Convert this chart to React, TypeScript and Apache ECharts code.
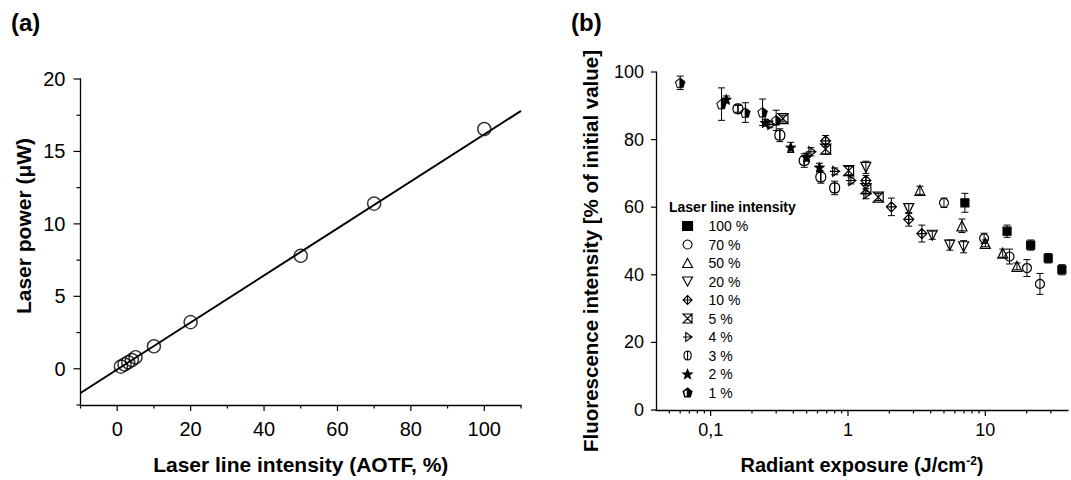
import React, { useEffect, useRef } from "react";
import * as echarts from "echarts";

const FONT = "'Liberation Sans', Arial, Helvetica, sans-serif";

// ---------- Panel (a) ----------
const aotfX = [1, 2, 3, 4, 5, 10, 20, 50, 70, 100];
const powerY = [0.15, 0.3, 0.45, 0.6, 0.8, 1.55, 3.22, 7.8, 11.4, 16.55];
const fitX = [-10, 110];
const fitY = [-1.67, 17.8];
const aXMajor = [0, 20, 40, 60, 80, 100];
const aXMinor = [-10, 10, 30, 50, 70, 90, 110];
const aYMajor = [0, 5, 10, 15, 20];
const aYMinor = [-2.5, 2.5, 7.5, 12.5, 17.5];

// ---------- Panel (b) ----------
const bXMajor = [0.1, 1, 10];
const bXMinor = [0.05, 0.06, 0.07, 0.08, 0.09, 0.2, 0.3, 0.4, 0.5, 0.6, 0.7, 0.8, 0.9, 2, 3, 4, 5, 6, 7, 8, 9, 20, 30];
const bYMajor = [0, 20, 40, 60, 80, 100];

const names = ["100 %", "70 %", "50 %", "20 %", "10 %", "5 %", "4 %", "3 %", "2 %", "1 %"];

const x100 = [7.1, 14.4, 21.4, 28.7, 36.1];
const y100 = [61.3, 52.9, 48.8, 44.9, 41.5];
const e100 = [2.8, 1.8, 1.5, 1.4, 1.5];

const x70 = [5.0, 9.8, 15.0, 20.1, 25.0];
const y70 = [61.3, 50.8, 45.4, 42.0, 37.3];
const e70 = [1.4, 1.5, 2.2, 2.5, 3.1];

const x50 = [3.34, 6.76, 10.0, 13.4, 17.0];
const y50 = [65.0, 54.5, 49.3, 46.4, 42.5];
const e50 = [1.2, 2.0, 1.0, 1.2, 1.0];

const x20 = [1.35, 2.77, 4.11, 5.51, 6.95];
const y20 = [71.8, 59.6, 51.7, 48.8, 48.3];
const e20 = [1.8, 1.5, 1.2, 1.5, 1.8];

const x10 = [0.687, 1.35, 2.07, 2.77, 3.45];
const y10 = [79.6, 67.9, 60.1, 56.4, 52.2];
const e10 = [1.6, 1.5, 2.6, 2.0, 2.5];

const x5 = [0.336, 0.687, 1.01, 1.35, 1.66];
const y5 = [86.2, 77.2, 70.8, 65.5, 63.0];
const e5 = [1.0, 1.5, 1.2, 1.5, 1.0];

const x4 = [0.27, 0.537, 0.8, 1.05, 1.35];
const y4 = [84.5, 76.4, 70.6, 67.9, 64.0];
const e4 = [1.0, 1.2, 1.0, 1.0, 1.5];

const x3 = [0.158, 0.319, 0.48, 0.634, 0.8];
const y3 = [89.1, 81.3, 73.8, 68.9, 65.7];
const e3 = [1.0, 1.9, 2.0, 1.8, 2.0];

const x2 = [0.13, 0.25, 0.383, 0.5, 0.62];
const y2 = [91.9, 85.0, 77.7, 74.8, 71.8];
const e2 = [1.0, 1.0, 1.5, 1.2, 1.2];

const x1 = [0.06, 0.12, 0.179, 0.239, 0.3];
const y1 = [96.8, 90.5, 88.0, 88.1, 85.7];
const e1 = [2.0, 4.8, 2.9, 3.9, 3.0];

const SYM_TRI_DOWN = "path://M0,0L10,0L5,9Z";
const SYM_DIAMOND_CROSS = "path://M5,0L10,5L5,10L0,5Z M5,0L5,10 M0,5L10,5";
const SYM_HOURGLASS = "path://M0,0L10,0L0,10L10,10Z M10,0L10,10";
const SYM_TRI_RIGHT = "path://M3,0L10,5L3,10Z M0,5L10,5";
const SYM_PHI = "path://M5,0C8,0 9,2.5 9,5C9,7.5 8,10 5,10C2,10 1,7.5 1,5C1,2.5 2,0 5,0Z M5,0L5,10";
const SYM_STAR = "path://M5,0L6.23,3.3L9.76,3.45L7,5.65L7.94,9.05L5,7.1L2.06,9.05L3,5.65L0.24,3.45L3.77,3.3Z";
const SYM_PENT_HALF = "path://M5,0L10,3.8L8.1,10L1.9,10L0,3.8Z M4.7,1.0L0.6,4.0L2.2,9.5L4.7,9.5Z";

const OPEN = "rgba(255,255,255,0)";
const groups = [
  { name: names[0], x: x100, y: y100, e: e100, symbol: "rect", size: 8, fill: "#000", bw: 1.2 },
  { name: names[1], x: x70, y: y70, e: e70, symbol: "circle", size: 9, fill: OPEN, bw: 1.2 },
  { name: names[2], x: x50, y: y50, e: e50, symbol: "triangle", size: 10, fill: OPEN, bw: 1.2 },
  { name: names[3], x: x20, y: y20, e: e20, symbol: SYM_TRI_DOWN, size: 10, fill: OPEN, bw: 1.2 },
  { name: names[4], x: x10, y: y10, e: e10, symbol: SYM_DIAMOND_CROSS, size: 10, fill: OPEN, bw: 1.2 },
  { name: names[5], x: x5, y: y5, e: e5, symbol: SYM_HOURGLASS, size: 10, fill: OPEN, bw: 1.2 },
  { name: names[6], x: x4, y: y4, e: e4, symbol: SYM_TRI_RIGHT, size: 10, fill: OPEN, bw: 1.2 },
  { name: names[7], x: x3, y: y3, e: e3, symbol: SYM_PHI, size: 10, fill: OPEN, bw: 1.2 },
  { name: names[8], x: x2, y: y2, e: e2, symbol: SYM_STAR, size: 10, fill: "#000", bw: 1 },
  { name: names[9], x: x1, y: y1, e: e1, symbol: SYM_PENT_HALF, size: 10, fill: "#000", bw: 0.5 },
];

// tick renderer: data = [value, length, orientation(0 = x-axis tick, 1 = y-axis tick)]
function makeTickRender(xBase: number, yBase: number) {
  return (_p: any, api: any) => {
    const v = api.value(0);
    const len = api.value(1);
    const o = api.value(2);
    const st = { stroke: "#000", lineWidth: 1.2 };
    if (o === 0) {
      const pt = api.coord([v, yBase]);
      return { type: "line", shape: { x1: pt[0], y1: pt[1], x2: pt[0], y2: pt[1] + len }, style: st };
    }
    const pt = api.coord([xBase, v]);
    return { type: "line", shape: { x1: pt[0], y1: pt[1], x2: pt[0] - len, y2: pt[1] }, style: st };
  };
}

function buildOption() {
  const axisLine = { show: true, onZero: false, lineStyle: { color: "#000", width: 1.3 } };
  const errData: number[][] = [];
  groups.forEach((g) => g.x.forEach((xv, i) => errData.push([xv, g.y[i] - g.e[i], g.y[i] + g.e[i]])));
  const ticksA: number[][] = [
    ...aXMajor.map((v) => [v, 6, 0]),
    ...aXMinor.map((v) => [v, 3.5, 0]),
    ...aYMajor.map((v) => [v, 7, 1]),
    ...aYMinor.map((v) => [v, 4, 1]),
  ];
  const ticksB: number[][] = [
    ...bXMajor.map((v) => [v, 6, 0]),
    ...bXMinor.map((v) => [v, 3.5, 0]),
    ...bYMajor.map((v) => [v, 5, 1]),
  ];

  const scatterSeries = groups.map((g) => ({
    type: "scatter",
    name: g.name,
    xAxisIndex: 1,
    yAxisIndex: 1,
    symbol: g.symbol,
    symbolSize: g.size,
    z: 3,
    silent: true,
    itemStyle: { color: g.fill, borderColor: "#000", borderWidth: g.bw, opacity: 1 },
    data: g.x.map((xv, i) => [xv, g.y[i]]),
  }));

  return {
    animation: false,
    backgroundColor: "#fff",
    textStyle: { fontFamily: FONT },
    title: [
      { text: "(a)", left: 11, top: 10, padding: 0, textStyle: { fontSize: 24, fontWeight: "bold", color: "#000", fontFamily: FONT } },
      { text: "(b)", left: 571, top: 10, padding: 0, textStyle: { fontSize: 24, fontWeight: "bold", color: "#000", fontFamily: FONT } },
    ],
    graphic: [
      {
        type: "text", x: 23, y: 226, rotation: Math.PI / 2,
        style: { text: "Laser power (\u03bcW)", font: `bold 21px ${FONT}`, fill: "#000", textAlign: "center", textVerticalAlign: "middle" },
      },
      {
        type: "text", x: 590, y: 251, rotation: Math.PI / 2,
        style: { text: "Fluorescence intensity [% of initial value]", font: `bold 20.5px ${FONT}`, fill: "#000", textAlign: "center", textVerticalAlign: "middle" },
      },
      {
        type: "text", x: 669, y: 207,
        style: { text: "Laser line intensity", font: `bold 14px ${FONT}`, fill: "#000", textAlign: "left", textVerticalAlign: "middle" },
      },
    ],
    legend: {
      data: names,
      orient: "vertical",
      left: 682,
      top: 219,
      padding: 0,
      itemWidth: 10,
      itemHeight: 9,
      itemGap: 4.5,
      textStyle: { fontSize: 14, color: "#000", fontFamily: FONT, lineHeight: 14, padding: [0, 0, 0, 11] },
      itemStyle: { borderWidth: 1.1, borderColor: "#000" },
      selectedMode: false,
    },
    grid: [
      { left: 80.5, top: 79, width: 440.5, height: 333.5 },
      { left: 656, top: 72, width: 418, height: 341 },
    ],
    xAxis: [
      {
        gridIndex: 0, type: "value", position: "bottom", min: -10, max: 110,
        axisLine,
        axisTick: { show: false },
        axisLabel: { show: true, customValues: aXMajor, fontSize: 20, color: "#000", margin: 14, fontFamily: FONT },
        splitLine: { show: false },
        name: "Laser line intensity (AOTF, %)",
        nameLocation: "middle",
        nameGap: 49,
        nameTextStyle: { fontSize: 21, fontWeight: "bold", color: "#000", fontFamily: FONT, verticalAlign: "top" },
      },
      {
        gridIndex: 1, type: "log", logBase: 10, position: "bottom", min: 0.04, max: 40,
        axisLine,
        axisTick: { show: false },
        axisLabel: {
          show: true, fontSize: 18, color: "#000", margin: 11, fontFamily: FONT,
          showMinLabel: true, showMaxLabel: true,
          formatter: (v: number) => {
            const l = Math.log10(v);
            const r = Math.round(l);
            if (Math.abs(l - r) > 1e-6) return "";
            if (r === -1) return "0,1";
            if (r === 0) return "1";
            if (r === 1) return "10";
            return "";
          },
        },
        splitLine: { show: false },
        minorTick: { show: false },
        name: "Radiant exposure (J/cm{sup|-2})",
        nameLocation: "middle",
        nameGap: 45,
        nameTextStyle: {
          fontSize: 20, fontWeight: "bold", color: "#000", fontFamily: FONT, verticalAlign: "top",
          rich: { sup: { fontSize: 12, fontWeight: "bold", color: "#000", fontFamily: FONT, verticalAlign: "top", lineHeight: 12 } },
        },
      },
    ],
    yAxis: [
      {
        gridIndex: 0, type: "value", position: "left", min: -2.5, max: 20,
        axisLine,
        axisTick: { show: false },
        axisLabel: { show: true, customValues: aYMajor, fontSize: 20, color: "#000", margin: 15, fontFamily: FONT },
        splitLine: { show: false },
      },
      {
        gridIndex: 1, type: "value", position: "left", min: 0, max: 100, interval: 20,
        axisLine,
        axisTick: { show: false },
        axisLabel: { show: true, fontSize: 18, color: "#000", margin: 12, fontFamily: FONT },
        splitLine: { show: false },
      },
    ],
    series: [
      {
        type: "custom", xAxisIndex: 0, yAxisIndex: 0, silent: true, z: 2, clip: false,
        data: ticksA, encode: { x: 0 },
        renderItem: makeTickRender(-10, -2.5),
      },
      {
        type: "custom", xAxisIndex: 1, yAxisIndex: 1, silent: true, z: 2, clip: false,
        data: ticksB, encode: { x: 0 },
        renderItem: makeTickRender(0.04, 0),
      },
      {
        type: "line", xAxisIndex: 0, yAxisIndex: 0, silent: true,
        data: fitX.map((v, i) => [v, fitY[i]]),
        showSymbol: false, symbol: "none",
        lineStyle: { color: "#000", width: 2 },
        z: 2,
      },
      {
        type: "scatter", xAxisIndex: 0, yAxisIndex: 0, silent: true,
        data: aotfX.map((v, i) => [v, powerY[i]]),
        symbol: "circle", symbolSize: 13,
        itemStyle: { color: OPEN, borderColor: "#000", borderWidth: 1.4 },
        z: 3,
      },
      {
        type: "custom", xAxisIndex: 1, yAxisIndex: 1, silent: true, z: 2,
        data: errData,
        encode: { x: 0, y: [1, 2] },
        renderItem: (_p: any, api: any) => {
          const xv = api.value(0);
          const a = api.coord([xv, api.value(1)]);
          const b = api.coord([xv, api.value(2)]);
          const w = 3.5;
          const st = { stroke: "#000", lineWidth: 1 };
          return {
            type: "group",
            children: [
              { type: "line", shape: { x1: a[0], y1: a[1], x2: b[0], y2: b[1] }, style: st },
              { type: "line", shape: { x1: a[0] - w, y1: a[1], x2: a[0] + w, y2: a[1] }, style: st },
              { type: "line", shape: { x1: b[0] - w, y1: b[1], x2: b[0] + w, y2: b[1] }, style: st },
            ],
          };
        },
      },
      ...scatterSeries,
    ],
  };
}

export default function App() {
  const ref = useRef<HTMLDivElement>(null);
  useEffect(() => {
    document.body.style.margin = "0";
    if (!ref.current) return;
    const chart = echarts.init(ref.current, null, { renderer: "svg" });
    chart.setOption(buildOption() as any);
    return () => chart.dispose();
  }, []);
  return <div ref={ref} style={{ width: 1071, height: 480 }} />;
}
